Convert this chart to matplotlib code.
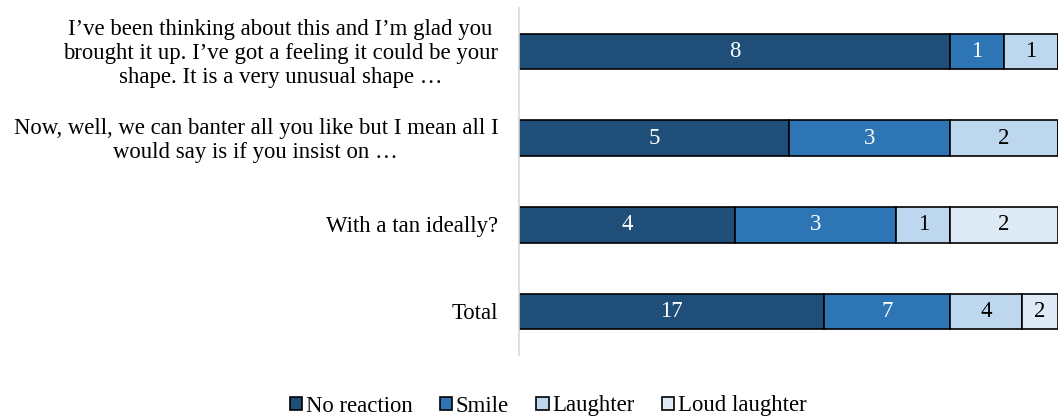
import numpy as np
import matplotlib.pyplot as plt

plt.rcParams['font.family'] = ['Liberation Serif', 'DejaVu Serif']

# responses per statement
categories = [
    'I\u2019ve been thinking about this and I\u2019m glad you\nbrought it up. I\u2019ve got a feeling it could be your\nshape. It is a very unusual shape \u2026',
    'Now, well, we can banter all you like but I mean all I\nwould say is if you insist on \u2026',
    'With a tan ideally?',
    'Total',
]
series = ['No reaction', 'Smile', 'Laughter', 'Loud laughter']
no_reaction = [8, 5, 4, 17]
smile = [1, 3, 3, 7]
laughter = [1, 2, 1, 4]
loud_laughter = [0, 0, 2, 2]

colors = ['#1F4E79', '#2E75B6', '#BDD7EE', '#DEEBF7']
text_colors = ['white', 'white', 'black', 'black']
fs = 16.4

counts = np.array([no_reaction, smile, laughter, loud_laughter], dtype=float)
shares = counts / counts.sum(axis=0)

fig = plt.figure(figsize=(10.58, 4.18), dpi=100)
ax = fig.add_axes([519 / 1058, 63 / 418, 539 / 1058, 347 / 418])

y = np.arange(len(categories))
left = np.zeros(len(categories))
for i in range(len(series)):
    ax.barh(y, shares[i], left=left, height=0.41, color=colors[i],
            edgecolor='black', linewidth=1.2, label=series[i])
    for j in range(len(categories)):
        if counts[i, j] > 0:
            ax.text(left[j] + shares[i, j] / 2, y[j], '%d' % counts[i, j],
                    ha='center', va='center', fontsize=fs, color=text_colors[i])
    left = left + shares[i]

ax.set_xlim(0, 1)
ax.set_ylim(3.5, -0.5)
ax.set_xticks([])
ax.set_yticks([])
for s in ['top', 'right', 'bottom']:
    ax.spines[s].set_visible(False)
ax.spines['left'].set_color('#D9D9D9')
ax.spines['left'].set_linewidth(1.2)

for j, lab in enumerate(categories):
    ax.annotate(lab, xy=(0, y[j]), xycoords=('axes fraction', 'data'),
                xytext=(-15, -1.5), textcoords='offset points',
                ha='right', va='center', multialignment='center',
                fontsize=fs, linespacing=1.2)

fig.legend(loc='center', bbox_to_anchor=(548 / 1058, 1 - 406 / 418), ncol=4,
           frameon=False, fontsize=fs, handlelength=0.55, handleheight=0.55,
           handletextpad=0.15, columnspacing=1.2)

fig.savefig('out.png', dpi=100)
